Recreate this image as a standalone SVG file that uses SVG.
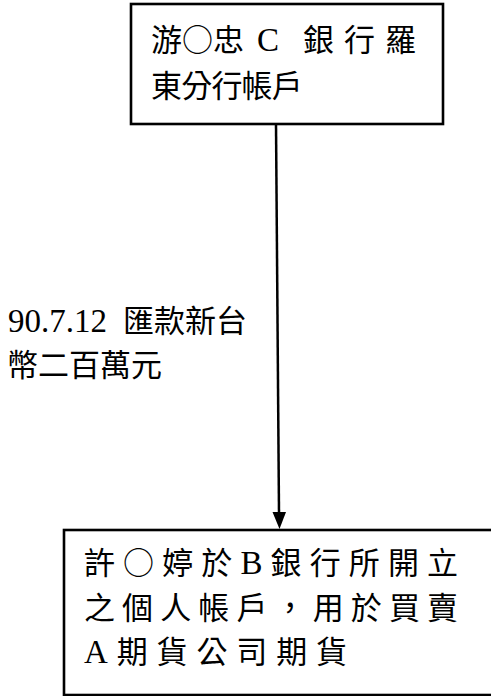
<svg xmlns="http://www.w3.org/2000/svg" width="491" height="696" viewBox="0 0 491 696">
  <style>
    .box { fill: #ffffff; stroke: #000000; stroke-width: 2.6; }
    .edge { stroke: #000000; stroke-width: 2.5; fill: none; }
    .head { fill: #000000; stroke: none; }
    text { font-family: "Noto Sans CJK TC", "Noto Sans CJK SC", sans-serif; font-size: 31px; fill: #000000; }
    .lat { font-family: "Liberation Serif", "Noto Sans CJK TC", serif; font-size: 33px; }
  </style>
  <rect x="0" y="0" width="491" height="696" fill="#ffffff"/>
  <g id="connectors">
    <line class="edge" x1="276" y1="124" x2="279" y2="513"/>
    <polygon class="head" points="272.5,512 286,512 279.5,529"/>
    <g id="edge-label">
      <text x="8" y="332"><tspan class="lat">90.7.12</tspan><tspan x="123">匯款新台</tspan><tspan x="7" y="376">幣二百萬元</tspan></text>
    </g>
  </g>
  <g id="node-source">
    <rect class="box" x="131" y="4" width="312" height="120"/>
    <text x="151" y="51"><tspan x="151 182 213">游○忠</tspan><tspan class="lat" x="257">C</tspan><tspan x="303" letter-spacing="10">銀行羅</tspan><tspan x="151" y="97" letter-spacing="-0.8">東分行帳戶</tspan></text>
  </g>
  <g id="node-target">
    <rect class="box" x="64" y="530" width="450" height="165"/>
    <text x="84" y="574" textLength="374" lengthAdjust="spacing">許○婷於<tspan class="lat">B</tspan>銀行所開立</text>
    <text x="84" y="619" textLength="374" lengthAdjust="spacing">之個人帳戶，用於買賣</text>
    <text x="84" y="663" textLength="263" lengthAdjust="spacing"><tspan class="lat">A</tspan>期貨公司期貨</text>
  </g>
</svg>
